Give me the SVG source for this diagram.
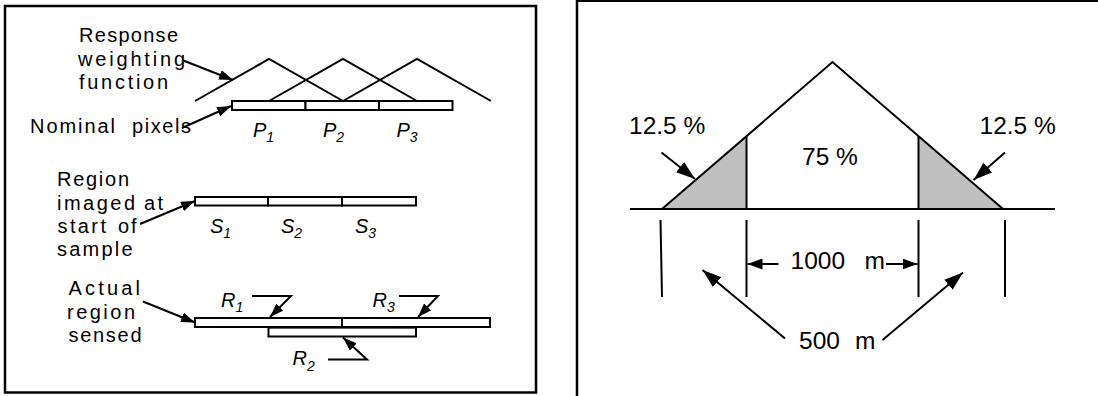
<svg xmlns="http://www.w3.org/2000/svg" width="1098" height="396" viewBox="0 0 1098 396">
<style>
.ln{fill:none;stroke:#000;stroke-width:2}
.bar{fill:#fff;stroke:#000;stroke-width:2}
.sh{fill:#c0c0c0;stroke:none}
.t{font-family:"Liberation Sans",Arial,sans-serif;font-size:20px;fill:#000}
.it{font-family:"Liberation Sans",Arial,sans-serif;font-size:20px;font-style:italic;fill:#000}
.sub{font-size:14px}
.tb{font-family:"Liberation Sans",Arial,sans-serif;font-size:24.5px;fill:#000}
.ar{fill:none;stroke:#000;stroke-width:2;marker-end:url(#aS)}
.arL{fill:none;stroke:#000;stroke-width:2;marker-end:url(#aL)}
.arM{fill:none;stroke:#000;stroke-width:2;marker-end:url(#aM)}
</style>
<defs>
<marker id="aS" viewBox="0 0 14 10" refX="14" refY="5" markerWidth="14" markerHeight="10" markerUnits="userSpaceOnUse" orient="auto"><path d="M0,0 L14,5 L0,10 z" fill="#000"/></marker>
<marker id="aM" viewBox="0 0 15 11" refX="15" refY="5.5" markerWidth="15" markerHeight="11" markerUnits="userSpaceOnUse" orient="auto"><path d="M0,0 L15,5.5 L0,11 z" fill="#000"/></marker>
<marker id="aL" viewBox="0 0 19 13" refX="19" refY="6.5" markerWidth="19" markerHeight="13" markerUnits="userSpaceOnUse" orient="auto"><path d="M0,0 L19,6.5 L0,13 z" fill="#000"/></marker>
</defs>
<rect width="1098" height="396" fill="#fff"/>

<g id="panel-left">
<rect x="5" y="6" width="531" height="386.5" fill="none" stroke="#000" stroke-width="2.5"/>
</g>
<g id="panel-right">
<line x1="577" y1="0" x2="577" y2="396" stroke="#000" stroke-width="2.5"/>
<line x1="577" y1="1" x2="1098" y2="1" stroke="#000" stroke-width="2"/>
</g>

<g id="response-weighting-label">
<text class="t" x="79" y="42" textLength="99" lengthAdjust="spacing">Response</text>
<text class="t" x="78" y="65.5" textLength="107" lengthAdjust="spacing">weighting</text>
<text class="t" x="79" y="89" textLength="89" lengthAdjust="spacing">function</text>
</g>
<g id="weighting-functions">
<polyline class="ln" points="195,101 269,59 343,101"/>
<polyline class="ln" points="269,101 343,59 417,101"/>
<polyline class="ln" points="343,101 417,59 491,101"/>
</g>
<g id="nominal-pixels-label">
<text class="t" x="30" y="133" textLength="85" lengthAdjust="spacing">Nominal</text>
<text class="t" x="132" y="133" textLength="59" lengthAdjust="spacing">pixels</text>
</g>
<g id="nominal-pixels">
<rect class="bar" x="232" y="101" width="73.5" height="9"/>
<rect class="bar" x="305.5" y="101" width="73.5" height="9"/>
<rect class="bar" x="379" y="101" width="73.5" height="9"/>
<text class="it" x="253" y="137">P<tspan class="sub" dy="4.5">1</tspan></text>
<text class="it" x="323" y="137">P<tspan class="sub" dy="4.5">2</tspan></text>
<text class="it" x="396.5" y="137">P<tspan class="sub" dy="4.5">3</tspan></text>
</g>

<g id="region-imaged-label">
<text class="t" x="57" y="186" textLength="72" lengthAdjust="spacing">Region</text>
<text class="t" x="57" y="210" textLength="78" lengthAdjust="spacing">imaged</text>
<text class="t" x="144" y="210" textLength="19" lengthAdjust="spacing">at</text>
<text class="t" x="57.5" y="233" textLength="48.5" lengthAdjust="spacing">start</text>
<text class="t" x="118" y="233" letter-spacing="2">of</text>
<text class="t" x="57" y="255.5" textLength="75.5" lengthAdjust="spacing">sample</text>
</g>
<g id="region-imaged">
<rect class="bar" x="195" y="197" width="73" height="8.5"/>
<rect class="bar" x="268" y="197" width="74" height="8.5"/>
<rect class="bar" x="342" y="197" width="74" height="8.5"/>
<text class="it" x="210" y="233">S<tspan class="sub" dy="5">1</tspan></text>
<text class="it" x="281" y="233">S<tspan class="sub" dy="5">2</tspan></text>
<text class="it" x="355" y="233">S<tspan class="sub" dy="5">3</tspan></text>
</g>

<g id="actual-region-label">
<text class="t" x="68.5" y="295" textLength="71.5" lengthAdjust="spacing">Actual</text>
<text class="t" x="67" y="318.5" textLength="68" lengthAdjust="spacing">region</text>
<text class="t" x="68.5" y="341.5" textLength="73" lengthAdjust="spacing">sensed</text>
</g>
<g id="actual-region">
<rect class="bar" x="195" y="318" width="147" height="9"/>
<rect class="bar" x="342" y="318" width="148" height="9"/>
<rect class="bar" x="268.5" y="327.5" width="147.5" height="9"/>
<line x1="268.5" y1="327.2" x2="416" y2="327.2" stroke="#000" stroke-width="2"/>
<text class="it" x="221" y="306.5">R<tspan class="sub" dy="5">1</tspan></text>
<text class="it" x="372.5" y="306.5">R<tspan class="sub" dy="5">3</tspan></text>
<text class="it" x="292.5" y="365">R<tspan class="sub" dy="5.5">2</tspan></text>
</g>

<g id="footprint">
<polygon class="sh" points="662,209 746.5,136 746.5,209"/>
<polygon class="sh" points="918.5,136 1003,209 918.5,209"/>
<polyline class="ln" points="662,209 832.5,62 1003,209"/>
<line class="ln" x1="746.5" y1="136" x2="746.5" y2="209"/>
<line class="ln" x1="918.5" y1="136" x2="918.5" y2="209"/>
<line class="ln" x1="630" y1="209" x2="1055" y2="209"/>
<text class="tb" x="802" y="165">75 %</text>
</g>
<g id="dimension-ticks">
<line class="ln" x1="660.5" y1="220" x2="662" y2="297"/>
<line class="ln" x1="746.5" y1="220" x2="746.5" y2="297"/>
<line class="ln" x1="918.5" y1="220" x2="918.5" y2="297"/>
<line class="ln" x1="1005" y1="220" x2="1005" y2="297"/>
</g>
<g id="label-12-5-left"><text class="tb" x="629" y="134">12.5 %</text></g>
<g id="label-12-5-right"><text class="tb" x="979.5" y="133.5">12.5 %</text></g>
<g id="label-1000m">
<text class="tb" x="790.5" y="269">1000</text>
<text class="tb" x="864.5" y="269">m</text>
</g>
<g id="label-500m">
<text class="tb" x="799" y="349">500</text>
<text class="tb" x="855" y="349">m</text>
</g>

<g id="connectors">
<line class="ar" x1="182" y1="60" x2="233" y2="80"/>
<line class="ar" x1="182" y1="128" x2="231" y2="106"/>
<line class="ar" x1="140" y1="224" x2="195" y2="201"/>
<line class="ar" x1="143" y1="301.5" x2="195" y2="322.5"/>
<polyline class="ar" points="252,296 291,296 270,317"/>
<polyline class="ar" points="399,296 438,296 418,317"/>
<polyline class="ar" points="328,359.5 367,359.5 343,337.5"/>
<line class="arL" x1="661.5" y1="152.5" x2="695" y2="179"/>
<line class="arL" x1="1005" y1="152.5" x2="973.5" y2="180"/>
<line class="arM" x1="778.5" y1="264" x2="747.5" y2="264"/>
<line class="arM" x1="886" y1="264" x2="917.5" y2="264"/>
<line class="arL" x1="785" y1="338.5" x2="702.5" y2="270"/>
<line class="arL" x1="882.5" y1="340" x2="963" y2="272.5"/>
</g>
</svg>
